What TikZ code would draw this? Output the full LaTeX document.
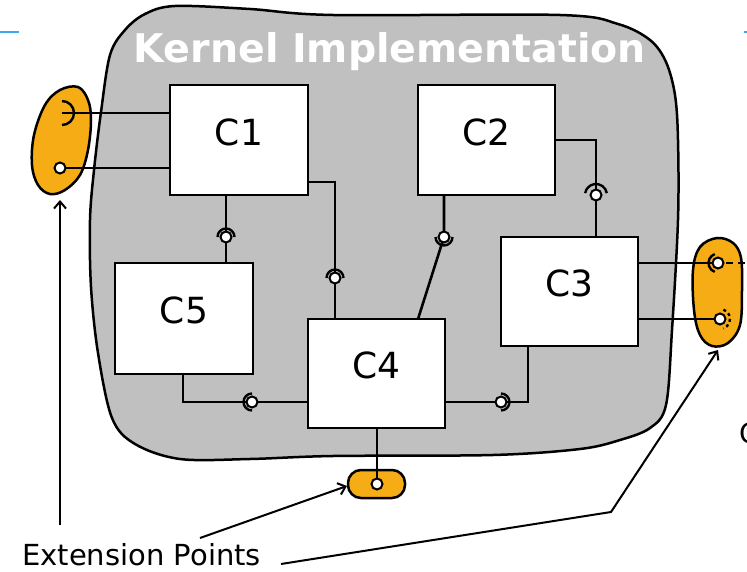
\documentclass[tikz,border=0pt]{standalone}
\usepackage{fontspec}
\setmainfont{DejaVu Sans}
\usetikzlibrary{arrows.meta}
\definecolor{kernelgray}{RGB}{192,192,192}
\definecolor{extorange}{RGB}{246,172,20}
\definecolor{ruleblue}{RGB}{60,170,240}

\begin{document}
\begin{tikzpicture}[x=1pt,y=-1pt,
  comp/.style={draw, fill=white, line width=2.8pt, inner sep=0pt, outer sep=0pt,
    font=\fontsize{36}{40}\selectfont, text depth=16pt},
  wire/.style={line width=2.6pt},
  ball/.style={draw, fill=white, line width=2pt},
  socket/.style={line width=2.4pt},
  pointer/.style={line width=2pt, -{Straight Barb[length=7pt,width=12pt,line width=2pt]}},
  extblob/.style={draw, line width=2.5pt, fill=extorange}]

% page and header rule
\useasboundingbox (0,0) rectangle (747,572);
\fill[white] (0,0) rectangle (747,572);
\draw[ruleblue, line width=2pt] (0,32) -- (19,32);
\draw[ruleblue, line width=2pt] (744,32) -- (747,32);

% kernel region
\draw[fill=kernelgray, line width=2.5pt] plot[smooth cycle, tension=0.55] coordinates {
  (175,6) (250,9) (333,15) (560,15) (618,24) (650,40) (666,62) (675,95)
  (678,140) (678,220) (672,330) (666,405) (650,428) (620,440) (580,449)
  (493,455) (333,456) (250,459) (180,459) (135,444) (112,418) (98,353)
  (91,287) (90,220) (94,170) (101,112) (110,55) (125,30) (145,14)};
\node[anchor=base, text=white, font=\fontsize{39.5}{44}\selectfont\bfseries] (ktitle) at (390,63) {Kernel Implementation};

% extension points
\draw[extblob] plot[smooth cycle, tension=0.6] coordinates {
  (78,87) (88,100) (91,120) (88,150) (80,175) (65,190) (50,194)
  (38,185) (32,165) (34,135) (45,105) (60,90)};
\draw[extblob] plot[smooth cycle, tension=0.6] coordinates {
  (717,238) (733,243) (741,258) (742,290) (740,325) (728,343) (712,346)
  (700,335) (694,310) (693,270) (700,247)};
\draw[extblob, rounded corners=13pt] (348,470) rectangle (405,498);

% interface points
\coordinate (i15) at (226,237);
\coordinate (p14) at (335,182);
\coordinate (i14) at (335,278);
\coordinate (i24) at (444,237);
\coordinate (q24) at (418,319);
\coordinate (p23) at (596,140);
\coordinate (i23) at (596,195);
\coordinate (p54) at (183,402);
\coordinate (i54) at (252,402);
\coordinate (i43) at (501,402);
\coordinate (p43) at (528,402);
\coordinate (r1) at (718,263);
\coordinate (r2) at (720,319);
\coordinate (l1) at (62,113);
\coordinate (l2) at (60,168);
\coordinate (b1) at (377,484);
\coordinate (rend) at (747,263);

% components
\node[comp, minimum width=138pt, minimum height=110pt] (c1) at (239,140) {C1};
\node[comp, minimum width=137pt, minimum height=110pt] (c2) at (486.5,140) {C2};
\node[comp, minimum width=138pt, minimum height=111pt] (c5) at (184,318.5) {C5};
\node[comp, minimum width=137pt, minimum height=109pt] (c4) at (376.5,373.5) {C4};
\node[comp, minimum width=137pt, minimum height=109pt] (c3) at (569.5,291.5) {C3};

% wires
\draw[wire] (l1) -- (l1 -| c1.west);
\draw[wire] (l2) -- (l2 -| c1.west);
\draw[wire] (i15 |- c1.south) -- (i15 |- c5.north);
\draw[wire] (p14 -| c1.east) -- (p14) -- (i14 |- c4.north);
\draw[wire] (i24 |- c2.south) -- (i24) -- (q24 |- c4.north);
\draw[wire] (c2.east) -- (p23) -- (i23 |- c3.north);
\draw[wire] (p54 |- c5.south) -- (p54) -- (i54 -| c4.west);
\draw[wire] (c4.east |- i43) -- (p43) -- (p43 |- c3.south);
\draw[wire] (c3.east |- r1) -- (r1);
\draw[wire] (c3.east |- r2) -- (r2);
\draw[wire] (c4.south -| b1) -- (b1);
\draw[wire, dash pattern=on 7pt off 5pt] ([xshift=8pt]r1) -- (rend);

% sockets
\draw[socket] ([shift={(90:12pt)}]l1) arc[start angle=90, end angle=-90, radius=12pt];
\draw[socket] ([shift={(0:8.5pt)}]i15) arc[start angle=0, end angle=180, radius=8.5pt];
\draw[socket] ([shift={(0:8.5pt)}]i14) arc[start angle=0, end angle=180, radius=8.5pt];
\draw[socket] ([shift={(180:8.5pt)}]i24) arc[start angle=180, end angle=360, radius=8.5pt];
\draw[socket] ([shift={(10:11pt)}]i23) arc[start angle=10, end angle=170, radius=11pt];
\draw[socket] ([shift={(90:8.5pt)}]i54) arc[start angle=90, end angle=270, radius=8.5pt];
\draw[socket] ([shift={(90:8.5pt)}]i43) arc[start angle=90, end angle=-90, radius=8.5pt];
\draw[socket] ([shift={(110:9.5pt)}]r1) arc[start angle=110, end angle=250, radius=9.5pt];
\draw[socket, dash pattern=on 3pt off 3pt] ([shift={(70:10pt)}]r2) arc[start angle=70, end angle=-70, radius=10pt];

% provided interfaces
\foreach \b in {l2,i15,i14,i24,i23,i54,i43,r1,r2,b1}
  \draw[ball] (\b) circle[radius=5.5pt];

% annotation
\node[anchor=base west, inner sep=0pt, font=\fontsize{29}{33}\selectfont] (ep) at (22,565) {Extension Points};
\node[anchor=west, inner sep=0pt, font=\fontsize{28}{30}\selectfont] (cut) at (739,433) {C};
\coordinate (la) at (60,200);
\coordinate (ba) at (347,486);
\coordinate (ra) at (718,350);
\coordinate (a1) at (60,525);
\coordinate (a2) at (200,538);
\coordinate (a3) at (281,564);
\coordinate (k3) at (611,512);
\draw[pointer] (a1) -- (la);
\draw[pointer] (a2) -- (ba);
\draw[pointer] (a3) -- (k3) -- (ra);
\end{tikzpicture}
\end{document}
